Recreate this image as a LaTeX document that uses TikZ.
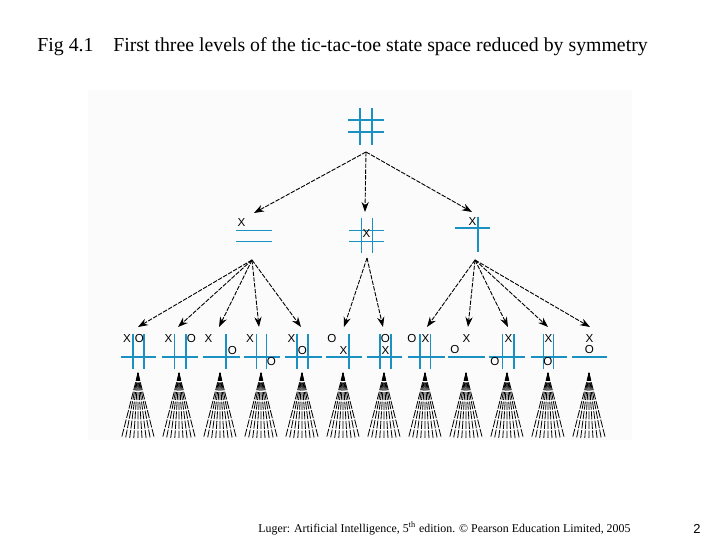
\documentclass[tikz,border=0pt]{standalone}
\usepackage{fontspec}
\setmainfont{Liberation Serif}
\newfontfamily\piecefont{Liberation Sans}
\usetikzlibrary{arrows.meta}

\definecolor{boardblue}{RGB}{25,145,195}

\begin{document}
\begin{tikzpicture}[x=0.5pt,y=-0.5pt,
    board/.style={boardblue,line width=0.65pt},
    piece/.style={font=\piecefont\fontsize{5.8}{6}\selectfont,inner sep=0pt},
    arr/.style={-{Stealth[length=5pt,width=3.6pt]},line width=0.45pt,dash pattern=on 2.2pt off 0.7pt},
    fanline/.style={line width=0.4pt,dash pattern=on 4pt off 0.8pt}]
  \useasboundingbox (0,0) rectangle (720,540);
  \fill[black!1.5] (88,90) rectangle (632,440);

  % title and footer
  \node[anchor=west,inner sep=0pt,font=\fontsize{9.9}{11}\selectfont] (title) at (37,47)
    {Fig 4.1\hspace{1em}First three levels of the tic-tac-toe state space reduced by symmetry};
  \node[anchor=west,inner sep=0pt,font=\fontsize{5.95}{7}\selectfont] (foot) at (258,528)
    {Luger: Artificial Intelligence, 5\textsuperscript{th} edition. \textcopyright\ Pearson Education Limited, 2005};
  \node[font=\piecefont\fontsize{6.5}{8}\selectfont] (page) at (697,529) {2};

  % empty board
  \draw[board] (360,108) -- (360,145) (372,108) -- (372,145)
               (348,120) -- (384,120) (348,132) -- (384,132);

  % second level
  \draw[board] (236,230.5) -- (272,230.5) (236,241.5) -- (272,241.5);
  \node[piece] (c1) at (241.5,223) {X};
  \draw[board] (361.5,218) -- (361.5,253) (372.5,218) -- (372.5,253)
               (349,230.5) -- (384,230.5) (349,241.5) -- (384,241.5);
  \node[piece] (c2) at (366.5,234) {X};
  \draw[board] (455,228) -- (490,228) (478,217) -- (478,252);
  \node[piece] (c3) at (472.5,222) {X};

  % third level
  \draw[board] (121,357) -- (156,357) (133,334) -- (133,369) (144,334) -- (144,369);
  \node[piece] (d1x) at (127,339) {X};  \node[piece] (d1o) at (139.5,339) {O};
  \draw[board] (162,357) -- (198,357) (174.5,334) -- (174.5,369) (186,334) -- (186,369);
  \node[piece] (d2x) at (168.5,339) {X}; \node[piece] (d2o) at (191.5,339) {O};
  \draw[board] (203,357) -- (240,357) (226,334) -- (226,369);
  \node[piece] (d3x) at (208.5,339) {X}; \node[piece] (d3o) at (232.5,351) {O};
  \draw[board] (244,357) -- (280,357) (256.5,334) -- (256.5,369) (266.5,334) -- (266.5,369);
  \node[piece] (d4x) at (250,339) {X};  \node[piece] (d4o) at (271.5,362) {O};
  \draw[board] (285,357) -- (322,357) (297,334) -- (297,369) (308,334) -- (308,369);
  \node[piece] (d5x) at (291.5,339) {X}; \node[piece] (d5o) at (302.5,351) {O};
  \draw[board] (326,357) -- (362,357) (349,334) -- (349,369);
  \node[piece] (d6o) at (332,339) {O};  \node[piece] (d6x) at (343.5,351) {X};
  \draw[board] (367,357) -- (402,357) (380,334) -- (380,369) (391,334) -- (391,369);
  \node[piece] (d7o) at (385.5,339) {O}; \node[piece] (d7x) at (385.5,351) {X};
  \draw[board] (408,357) -- (445,357) (420,334) -- (420,369) (430.5,334) -- (430.5,369);
  \node[piece] (d8o) at (412,339) {O};  \node[piece] (d8x) at (425.5,339) {X};
  \draw[board] (448,357) -- (485,357);
  \node[piece] (d9x) at (466.5,339) {X}; \node[piece] (d9o) at (455,350) {O};
  \draw[board] (489,357) -- (525,357) (502.5,334) -- (502.5,369) (514,334) -- (514,369);
  \node[piece] (d10x) at (508.5,339) {X}; \node[piece] (d10o) at (495,362) {O};
  \draw[board] (531,357) -- (567,357) (543.5,334) -- (543.5,369) (553.5,334) -- (553.5,369);
  \node[piece] (d11x) at (548.5,339) {X}; \node[piece] (d11o) at (548,362) {O};
  \draw[board] (572,357) -- (607,357);
  \node[piece] (d12x) at (589.5,339) {X}; \node[piece] (d12o) at (589.5,350) {O};

  % arrow ends
  \coordinate (r) at (366,152);
  \coordinate (t1) at (254,213);
  \coordinate (t2) at (365,212);
  \coordinate (t3) at (472,212);
  \coordinate (s1) at (252,260);
  \coordinate (s2) at (367,258);
  \coordinate (s3) at (475,260);
  \foreach \i/\x in {1/138,2/178,3/219,4/259,5/301,6/344,7/383,8/427,9/468,10/508,11/548,12/590}
    \coordinate (u\i) at (\x,327);

  \path[arr] (r) edge (t1) edge (t2) edge (t3);
  \path[arr] (s1) edge (u1) edge (u2) edge (u3) edge (u4) edge (u5);
  \path[arr] (s2) edge (u6) edge (u7);
  \path[arr] (s3) edge (u8) edge (u9) edge (u10) edge (u11) edge (u12);

  % rest of the space
  \foreach \c in {138,179,220,261,302,343,384,425,466,507,548,589}
    \foreach \d in {-16.5,-12.4,...,16.6}
      \draw[fanline] (\c,373) -- (\c+\d,438);
\end{tikzpicture}
\end{document}
